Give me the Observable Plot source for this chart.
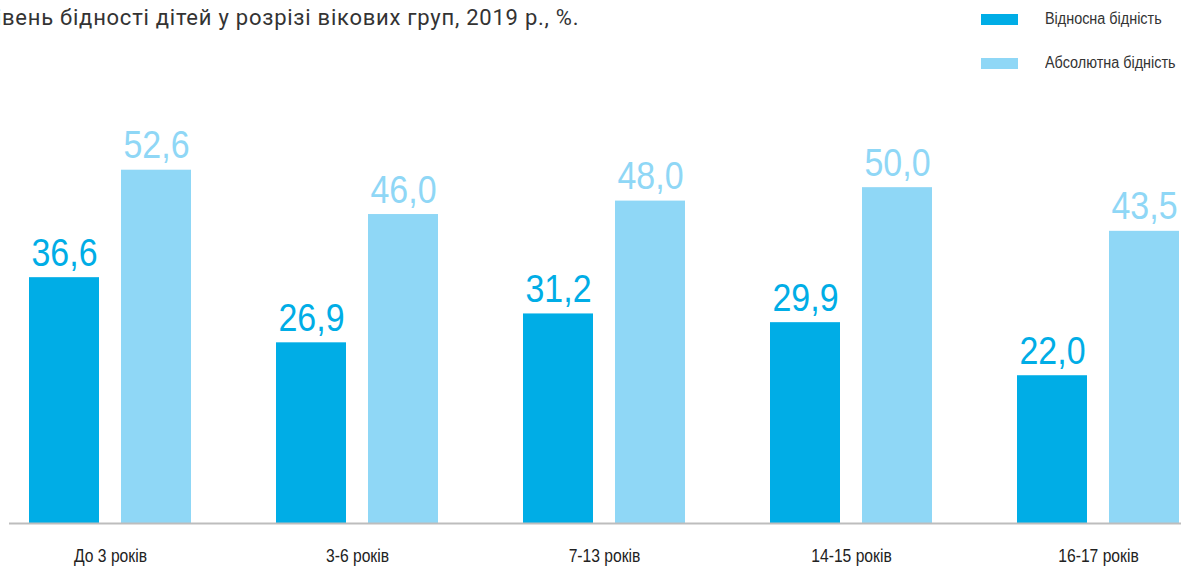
<!DOCTYPE html>
<html>
<head>
<meta charset="utf-8">
<script src="https://cdn.jsdelivr.net/npm/d3@7"></script>
<script src="https://cdn.jsdelivr.net/npm/@observablehq/plot@0.6"></script>
<style>
  html, body { margin: 0; padding: 0; background: #fff; overflow: hidden; }
  #wrap { position: relative; width: 1181px; height: 567px; overflow: hidden; }
  #header { position: relative; height: 80px; }
  #title { position: absolute; left: -19px; top: 5px; font-family: Roboto, "Noto Sans", sans-serif; font-size: 22px; color: #333; white-space: nowrap; letter-spacing: 0.75px; }
  .leg { position: absolute; left: 981px; display: flex; align-items: center; font-family: "Liberation Sans", Arial, sans-serif; font-size: 16px; color: #333; white-space: nowrap; }
  .leg span { display: inline-block; transform: scaleX(0.9); transform-origin: left center; }
  .sw { width: 37px; height: 11px; margin-right: 27px; }
  #chart svg { display: block; }
</style>
</head>
<body>
<div id="wrap">
  <div id="header">
    <div id="title"><span id="cut">Рі</span>вень бідності дітей у розрізі вікових груп, 2019 р., %.</div>
    <div id="legend"></div>
  </div>
  <div id="chart"></div>
</div>
<script>
const groups = ["До 3 років", "3-6 років", "7-13 років", "14-15 років", "16-17 років"];
const relative = [36.6, 26.9, 31.2, 29.9, 22.0];
const absolute = [52.6, 46.0, 48.0, 50.0, 43.5];
const seriesNames = ["Відносна бідність", "Абсолютна бідність"];
const colors = ["#00ade6", "#8fd7f6"];

const data = groups.map((g, i) => ({group: g, rel: relative[i], abs: absolute[i]}));
const fmt = v => v.toFixed(1).replace(".", ",");
const numFont = "'Liberation Sans', Arial, sans-serif";

// title: the first letters are cut off at the left edge, as in the reference
const cut = document.getElementById("cut");
document.getElementById("title").style.left = (2 - cut.getBoundingClientRect().width) + "px";

const legend = document.getElementById("legend");
seriesNames.forEach((name, i) => {
  const row = document.createElement("div");
  row.className = "leg";
  row.style.top = (i === 0 ? 10 : 54) + "px";
  row.innerHTML = `<div class="sw" style="background:${colors[i]}"></div><span>${name}</span>`;
  legend.appendChild(row);
});

const chart = Plot.plot({
  width: 1181,
  height: 487,
  marginLeft: 9,
  marginRight: 0,
  marginTop: 40,
  marginBottom: 44,
  x: {type: "band", domain: groups, range: [28, 1180], paddingInner: 0.345, paddingOuter: 0, label: null},
  y: {domain: [0, 60], axis: null},
  style: {fontFamily: numFont, background: "#fff"},
  marks: [
    Plot.barY(data, {x: "group", y: "rel", fill: colors[0], insetRight: 92}),
    Plot.barY(data, {x: "group", y: "abs", fill: colors[1], insetLeft: 92}),
    Plot.text(data, {x: "group", y: "rel", text: d => fmt(d.rel), dx: -46, dy: -12, lineAnchor: "bottom", fill: colors[0], fontSize: 39, fontFamily: numFont, ariaLabel: "value"}),
    Plot.text(data, {x: "group", y: "abs", text: d => fmt(d.abs), dx: 46, dy: -12, lineAnchor: "bottom", fill: colors[1], fontSize: 39, fontFamily: numFont, ariaLabel: "value"}),
    Plot.ruleY([0], {stroke: "#bdbdbd", strokeWidth: 2}),
    Plot.axisX({tickSize: 0, tickPadding: 26, fontSize: 18, fill: "#222", label: null, fontFamily: numFont})
  ]
});

// narrow the type horizontally, as the reference uses a condensed face
chart.querySelectorAll("text").forEach(el => {
  const g = el.closest("g[aria-label]");
  const isValue = g && g.getAttribute("aria-label") === "value";
  const t = el.getAttribute("transform") || "";
  el.setAttribute("transform", t + (isValue ? " scale(0.82,1)" : " scale(0.87,1)"));
});
document.getElementById("chart").appendChild(chart);
</script>
</body>
</html>
